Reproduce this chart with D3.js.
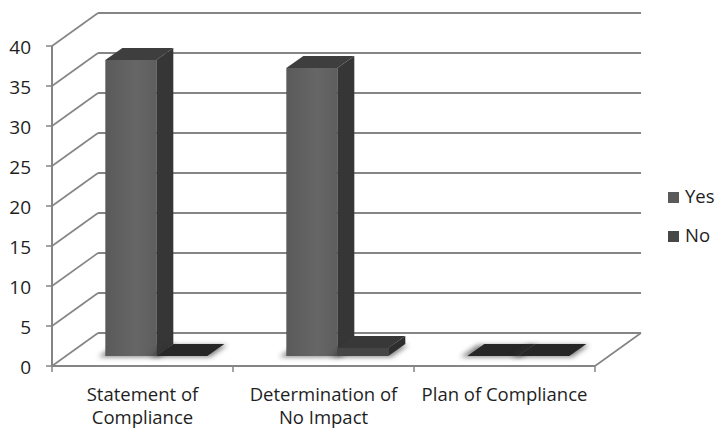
<!DOCTYPE html>
<html>
<head>
<meta charset="utf-8">
<script src="https://d3js.org/d3.v7.min.js"></script>
<style>
  body { margin: 0; background: #fff; }
  text { font-family: "Open Sans", "Liberation Sans", sans-serif; fill: #1e1e1e; }
</style>
</head>
<body>
<div id="chart"></div>
<script>
// data
var categories = ["Statement of Compliance", "Determination of No Impact", "Plan of Compliance"];
var catLines = [["Statement of", "Compliance"], ["Determination of", "No Impact"], ["Plan of Compliance"]];
var series = ["Yes", "No"];
var yesValues = [37, 36, 0];
var noValues = [0, 1, 0];
var yTicks = [0, 5, 10, 15, 20, 25, 30, 35, 40];

var width = 716, height = 429;
var depthX = 46, depthY = -33;           // oblique offset of the back wall
var barD0 = 0.3, barD1 = 0.67;           // bar depth range (fraction of floor depth)

var svg = d3.select("#chart").append("svg")
    .attr("width", width).attr("height", height);

var defs = svg.append("defs");
defs.append("filter").attr("id", "blur")
    .attr("x", "-50%").attr("y", "-50%").attr("width", "200%").attr("height", "200%")
  .append("feGaussianBlur").attr("stdDeviation", 2.5);

var grad = defs.append("linearGradient").attr("id", "frontYes").attr("x1", 0).attr("x2", 1);
grad.append("stop").attr("offset", "0%").attr("stop-color", "#5a5a5a");
grad.append("stop").attr("offset", "60%").attr("stop-color", "#666");
grad.append("stop").attr("offset", "100%").attr("stop-color", "#5e5e5e");

var y = d3.scaleLinear().domain([0, 40]).range([366, 46]);
var x0 = d3.scaleBand().domain(categories).range([52, 595]);
var x1 = d3.scaleBand().domain(series).range([0, x0.bandwidth()]).paddingInner(0).paddingOuter(0.775);

// project (x, value-y, depth) to screen
function P(xx, yy, d) { return [xx + depthX * d, yy + depthY * d]; }
function poly(pts) { return pts.map(function(p) { return p.join(","); }).join(" "); }

var gridColor = "#858585";

// back wall gridlines
svg.append("g").selectAll("line").data(yTicks).join("line")
    .attr("x1", P(52, 0, 1)[0]).attr("x2", P(595, 0, 1)[0])
    .attr("y1", function(d) { return y(d) + depthY; })
    .attr("y2", function(d) { return y(d) + depthY; })
    .attr("stroke", gridColor).attr("stroke-width", 2);

// left wall diagonals
svg.append("g").selectAll("line").data(yTicks).join("line")
    .attr("x1", 52).attr("y1", function(d) { return y(d); })
    .attr("x2", 52 + depthX).attr("y2", function(d) { return y(d) + depthY; })
    .attr("stroke", gridColor).attr("stroke-width", 1.6);

// floor front and right edges
svg.append("line").attr("x1", 52).attr("x2", 595).attr("y1", y(0)).attr("y2", y(0))
    .attr("stroke", gridColor).attr("stroke-width", 2);
svg.append("line").attr("x1", 595).attr("y1", y(0)).attr("x2", 595 + depthX).attr("y2", y(0) + depthY)
    .attr("stroke", gridColor).attr("stroke-width", 1.6);

// category ticks
svg.append("g").selectAll("line").data([52, 52 + x0.step(), 52 + 2 * x0.step(), 595]).join("line")
    .attr("x1", function(d) { return d; }).attr("x2", function(d) { return d; })
    .attr("y1", y(0)).attr("y2", y(0) + 6)
    .attr("stroke", gridColor).attr("stroke-width", 1.5);

// y axis
svg.append("line").attr("x1", 52).attr("x2", 52).attr("y1", y(40)).attr("y2", y(0))
    .attr("stroke", gridColor).attr("stroke-width", 2);
svg.append("g").selectAll("line").data(yTicks).join("line")
    .attr("x1", 46).attr("x2", 52)
    .attr("y1", function(d) { return y(d); }).attr("y2", function(d) { return y(d); })
    .attr("stroke", gridColor).attr("stroke-width", 1.5);
svg.append("g").selectAll("text").data(yTicks).join("text")
    .attr("x", 31).attr("y", function(d) { return y(d) + 7.5; })
    .attr("text-anchor", "end").attr("font-size", 19)
    .text(function(d) { return d; });

// bars
var bars = [];
categories.forEach(function(c, i) {
  bars.push({ cat: c, s: "Yes", v: yesValues[i] });
  bars.push({ cat: c, s: "No", v: noValues[i] });
});

var colors = {
  Yes: { front: "url(#frontYes)", side: "#363636", top: "#3e3e3e" },
  No:  { front: "#454545", side: "#2e2e2e", top: "#383838" }
};

var gBars = svg.append("g");
bars.forEach(function(b) {
  var xl = x0(b.cat) + x1(b.s), xr = xl + x1.bandwidth();
  var yb = y(0), yt = y(b.v);
  // shadow on floor
  gBars.append("polygon")
      .attr("points", poly([P(xl - 7, yb + 1, barD0), P(xr + 3, yb + 1, barD0), P(xr + 3, yb + 1, barD1), P(xl - 7, yb + 1, barD1)]))
      .attr("fill", "#333").attr("opacity", 0.6).attr("filter", "url(#blur)");
  if (b.v === 0) {
    gBars.append("polygon")
        .attr("points", poly([P(xl, yb, barD0), P(xr, yb, barD0), P(xr, yb, barD1), P(xl, yb, barD1)]))
        .attr("fill", "#262626");
    return;
  }
  // side
  gBars.append("polygon")
      .attr("points", poly([P(xr, yb, barD0), P(xr, yt, barD0), P(xr, yt, barD1), P(xr, yb, barD1)]))
      .attr("fill", colors[b.s].side);
  // front
  gBars.append("polygon")
      .attr("points", poly([P(xl, yb, barD0), P(xr, yb, barD0), P(xr, yt, barD0), P(xl, yt, barD0)]))
      .attr("fill", colors[b.s].front);
  // top
  gBars.append("polygon")
      .attr("points", poly([P(xl, yt, barD0), P(xr, yt, barD0), P(xr, yt, barD1), P(xl, yt, barD1)]))
      .attr("fill", colors[b.s].top);
});

// category labels
var gCat = svg.append("g");
categories.forEach(function(c, i) {
  var cx = x0(c) + x0.bandwidth() / 2;
  catLines[i].forEach(function(line, j) {
    gCat.append("text").attr("x", cx).attr("y", 401 + j * 23)
        .attr("text-anchor", "middle").attr("font-size", 18.5).text(line);
  });
});

// legend
var legend = svg.append("g").selectAll("g").data(series).join("g")
    .attr("transform", function(d, i) { return "translate(668," + (192 + i * 39) + ")"; });
legend.append("rect").attr("width", 11).attr("height", 11)
    .attr("fill", function(d) { return d === "Yes" ? "#5a5a5a" : "#474747"; });
legend.append("text").attr("x", 17).attr("y", 11).attr("font-size", 18.5)
    .text(function(d) { return d; });
</script>
</body>
</html>
